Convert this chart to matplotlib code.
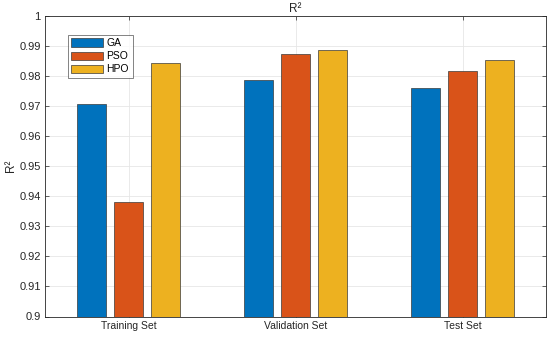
import matplotlib
matplotlib.use("Agg")
import matplotlib.pyplot as plt
import numpy as np

plt.rcParams['font.family'] = ['Liberation Sans', 'DejaVu Sans']

categories = ["Training Set", "Validation Set", "Test Set"]
series_names = ["GA", "PSO", "HPO"]
ga = [0.9706, 0.9788, 0.9762]
pso = [0.9381, 0.9874, 0.9818]
hpo = [0.9842, 0.9886, 0.9853]
yticks = [0.9, 0.91, 0.92, 0.93, 0.94, 0.95, 0.96, 0.97, 0.98, 0.99, 1.0]
ytick_labels = ["0.9", "0.91", "0.92", "0.93", "0.94", "0.95", "0.96", "0.97", "0.98", "0.99", "1"]

colors = ["#0072BD", "#D95319", "#EDB120"]

fig = plt.figure(figsize=(5.5, 3.38), dpi=100)
ax = fig.add_axes([45/550, 1 - 316.5/338, (546-45)/550, (316.5-16)/338])

x = np.arange(1, len(categories) + 1)
offsets = [-0.222, 0.0, 0.222]
width = 0.178
for vals, name, c, off in zip([ga, pso, hpo], series_names, colors, offsets):
    ax.bar(x + off, np.array(vals) - 0.9, width, bottom=0.9, color=c,
           edgecolor="#3a3a3a", linewidth=0.5, label=name, zorder=3)

ax.set_xlim(0.5, 3.5)
ax.set_ylim(0.9, 1.0)
ax.set_xticks(x)
ax.set_xticklabels(categories, fontsize=7.5, color="#262626")
ax.set_yticks(yticks)
ax.set_yticklabels(ytick_labels, fontsize=8, color="#262626")
ax.grid(True, color="#e6e6e6", linewidth=0.6, zorder=0)
ax.set_axisbelow(True)
ax.tick_params(direction="in", length=3, width=0.5, color="#262626", right=True, top=True, pad=3)
for s in ax.spines.values():
    s.set_linewidth(0.6)
    s.set_color("#262626")

ax.set_title("R²", fontsize=8.5, color="#262626", pad=3)
ax.set_ylabel("R²", fontsize=8.5, color="#262626", labelpad=2)

leg = ax.legend(loc="upper left", bbox_to_anchor=((67.5-45)/501, 1 - (34.5-16)/300.5),
                fontsize=7.5, frameon=True, fancybox=False, edgecolor="#262626",
                handlelength=3.1, handleheight=0.85, handletextpad=0.3,
                borderpad=0.35, labelspacing=0.3, borderaxespad=0)
leg.get_frame().set_linewidth(0.5)

fig.savefig("out.png", dpi=100)
